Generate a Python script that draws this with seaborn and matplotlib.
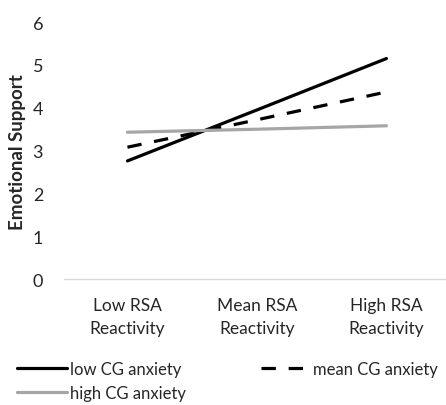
import pandas as pd
import matplotlib.pyplot as plt
import seaborn as sns

# data
categories = ['Low RSA\nReactivity', 'Mean RSA\nReactivity', 'High RSA\nReactivity']
low_cg = [2.76, 3.95, 5.15]
mean_cg = [3.08, 3.72, 4.37]
high_cg = [3.43, 3.50, 3.58]
series_names = ['low CG anxiety', 'mean CG anxiety', 'high CG anxiety']

sns.set_style('white')
plt.rcParams['font.family'] = ['Lato', 'DejaVu Sans']

rows = []
for name, vals in zip(series_names, [low_cg, mean_cg, high_cg]):
    for i, v in enumerate(vals):
        rows.append({'x': i, 'value': v, 'series': name})
df = pd.DataFrame(rows)

fig = plt.figure(figsize=(4.46, 4.06), dpi=100)
ax = fig.add_axes([64 / 446, 0.310, 1 - 64 / 446, 0.633])

palette = {'low CG anxiety': 'black', 'mean CG anxiety': 'black', 'high CG anxiety': '#a6a6a6'}
dashes = {'low CG anxiety': '', 'mean CG anxiety': (4.5, 4.0), 'high CG anxiety': ''}
sns.lineplot(data=df, x='x', y='value', hue='series', style='series',
             palette=palette, dashes=dashes, linewidth=2.3, ax=ax,
             hue_order=series_names, style_order=series_names)

ax.set_xlim(-0.49, 2.46)
ax.set_ylim(0, 6)
ax.set_xticks(range(len(categories)))
ax.set_xticklabels(categories, fontsize=12.5, color='#262626', linespacing=1.55)
ax.set_yticks(range(0, 7))
ax.set_yticklabels([str(t) for t in range(0, 7)], fontsize=13, color='#262626')
ax.tick_params(axis='x', length=0, pad=12.5)
ax.tick_params(axis='y', length=0, pad=15)
ax.set_xlabel('')
ax.set_ylabel('Emotional Support', fontsize=13.5, fontweight='bold', labelpad=5)
for s in ['top', 'right', 'left']:
    ax.spines[s].set_visible(False)
ax.spines['bottom'].set_color('#d9d9d9')
ax.spines['bottom'].set_linewidth(1)

handles, labels = ax.get_legend_handles_labels()
ax.get_legend().remove()
order = [0, 2, 1]
fig.legend([handles[i] for i in order], [labels[i] for i in order],
           ncol=2, loc='lower left', bbox_to_anchor=(17 / 446, 4 / 406),
           borderpad=0, borderaxespad=0,
           frameon=False, fontsize=12, handlelength=3.0, handletextpad=0.15,
           columnspacing=4.5, labelspacing=0.5, labelcolor='#262626')

fig.savefig('out.png', dpi=100)
